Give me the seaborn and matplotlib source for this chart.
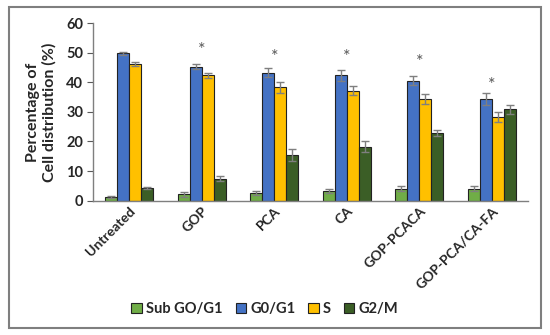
import pandas as pd
import numpy as np
import seaborn as sns
from matplotlib import pyplot as plt
from matplotlib.patches import Rectangle

# Values
groups = ['Untreated', 'GOP', 'PCA', 'CA', 'GOP-PCACA', 'GOP-PCA/CA-FA']
phases = ['Sub GO/G1', 'G0/G1', 'S', 'G2/M']
sub_g0g1 = [1.3, 2.1, 2.6, 3.2, 4.1, 4.1]
g0g1 = [49.8, 45.3, 43.3, 42.3, 40.6, 34.3]
s_phase = [46.2, 42.4, 38.3, 37.2, 34.4, 28.2]
g2m = [4.2, 7.4, 15.5, 18.3, 22.9, 30.9]
err_sub = [0.4, 0.8, 0.8, 0.7, 0.8, 0.9]
err_g0g1 = [0.5, 0.9, 1.6, 2.0, 1.4, 2.1]
err_s = [0.8, 0.8, 1.8, 1.5, 1.7, 1.7]
err_g2m = [0.3, 0.9, 2.0, 1.9, 1.1, 1.5]
star_y = [None, 51.0, 48.7, 48.5, 46.7, 39.0]

colors = ['#70AD47', '#4472C4', '#FFC000', '#3B5E26']

df = pd.DataFrame({
    'Group': groups * 4,
    'Phase': np.repeat(phases, len(groups)),
    'Value': sub_g0g1 + g0g1 + s_phase + g2m,
})
errors = [err_sub, err_g0g1, err_s, err_g2m]

sns.set_style('white')
plt.rcParams['font.family'] = ['Lato', 'DejaVu Sans']

fig = plt.figure(figsize=(5.5, 3.35), dpi=100)
ax = fig.add_axes([0.169, 0.401, 0.791, 0.530])

sns.barplot(data=df, x='Group', y='Value', hue='Phase', order=groups,
            hue_order=phases, palette=colors, saturation=1, errorbar=None,
            width=0.66, edgecolor='#222222', linewidth=0.8, ax=ax)

# error bars on each bar
for cont, err in zip(ax.containers, errors):
    xs = [b.get_x() + b.get_width() / 2 for b in cont]
    ys = [b.get_height() for b in cont]
    ax.errorbar(xs, ys, yerr=err, fmt='none', ecolor='#7F7F7F',
                elinewidth=1, capsize=3, capthick=1)

# significance stars
for i, y in enumerate(star_y):
    if y is not None:
        ax.text(i, y, '*', ha='center', va='center', fontsize=13, color='#595959')

ax.set_ylim(0, 60)
ax.set_xlim(-0.5, 5.5)
ax.set_yticks(range(0, 61, 10))
ax.set_xlabel('')
ax.set_ylabel('Percentage of\nCell distribution (%)', fontsize=11.5,
              fontweight='bold', labelpad=7)
ax.tick_params(axis='y', direction='out', length=4, width=0.8, color='#595959',
               labelsize=10.5, pad=3, left=True)
ax.tick_params(axis='x', length=0, labelsize=10, pad=3)
for lab in ax.get_yticklabels():
    lab.set_fontweight('bold')
for lab in ax.get_xticklabels():
    lab.set_fontweight('bold')
    lab.set_rotation(45)
    lab.set_ha('right')
    lab.set_rotation_mode('anchor')

sns.despine(ax=ax)
for side in ['left', 'bottom']:
    ax.spines[side].set_color('#7F7F7F')
    ax.spines[side].set_linewidth(1)

ax.legend(loc='center', bbox_to_anchor=(0.395, -0.61), ncol=4, frameon=False,
          prop={'weight': 'bold', 'size': 10.5}, handlelength=0.7,
          handleheight=0.7, handletextpad=0.3, columnspacing=0.9)

# outer frame around the whole figure
fig.patches.append(Rectangle((9 / 550, 7 / 335), 532 / 550, 321 / 335,
                             transform=fig.transFigure, fill=False,
                             edgecolor='#7F7F7F', linewidth=1.5))

fig.savefig('out.png', dpi=100)
